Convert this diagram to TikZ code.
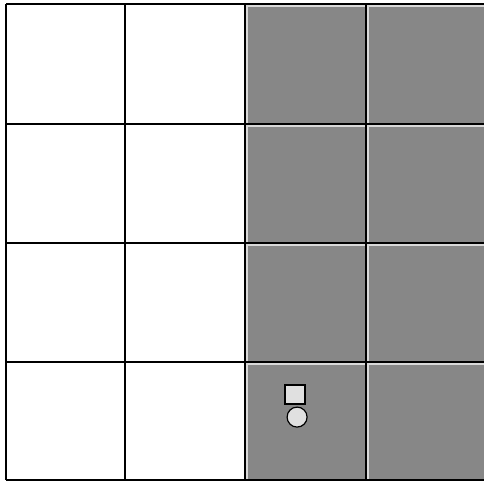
\documentclass[tikz,border=0pt]{standalone}
\usetikzlibrary{positioning}

\begin{document}
\begin{tikzpicture}[
    x=1pt, y=1pt,
    grid line/.style={draw, line width=1.2pt},
    gap line/.style={draw=white!85!black, line width=2.5pt},
    shaded/.style={fill=black!47},
    marker/.style={draw, line width=1.2pt, fill=black!12, inner sep=0pt},
]
\useasboundingbox (0,0) rectangle (484,481);

% --- right half, shaded ---
\fill[shaded] (245,1) rectangle (484,477);
\foreach \x in {246.5,367.5}
    \draw[gap line] (\x,1) -- (\x,477);
\foreach \y in {475.5,355.5,236.5,117.5}
    \draw[gap line] (245,\y) -- (484,\y);

% --- grid ---
\foreach \x in {6,125,245,366}
    \draw[grid line] (\x,1) -- (\x,477);
\foreach \y in {1,119,238,357,477}
    \draw[grid line] (6,\y) -- (484,\y);

% --- markers in the bottom cell ---
\node[marker, rectangle, minimum width=20pt, minimum height=19pt] (sq) at (295,86.5) {};
\node[marker, circle, minimum size=20pt, below right=5pt and -16pt of sq] (dot) {};

\end{tikzpicture}
\end{document}
